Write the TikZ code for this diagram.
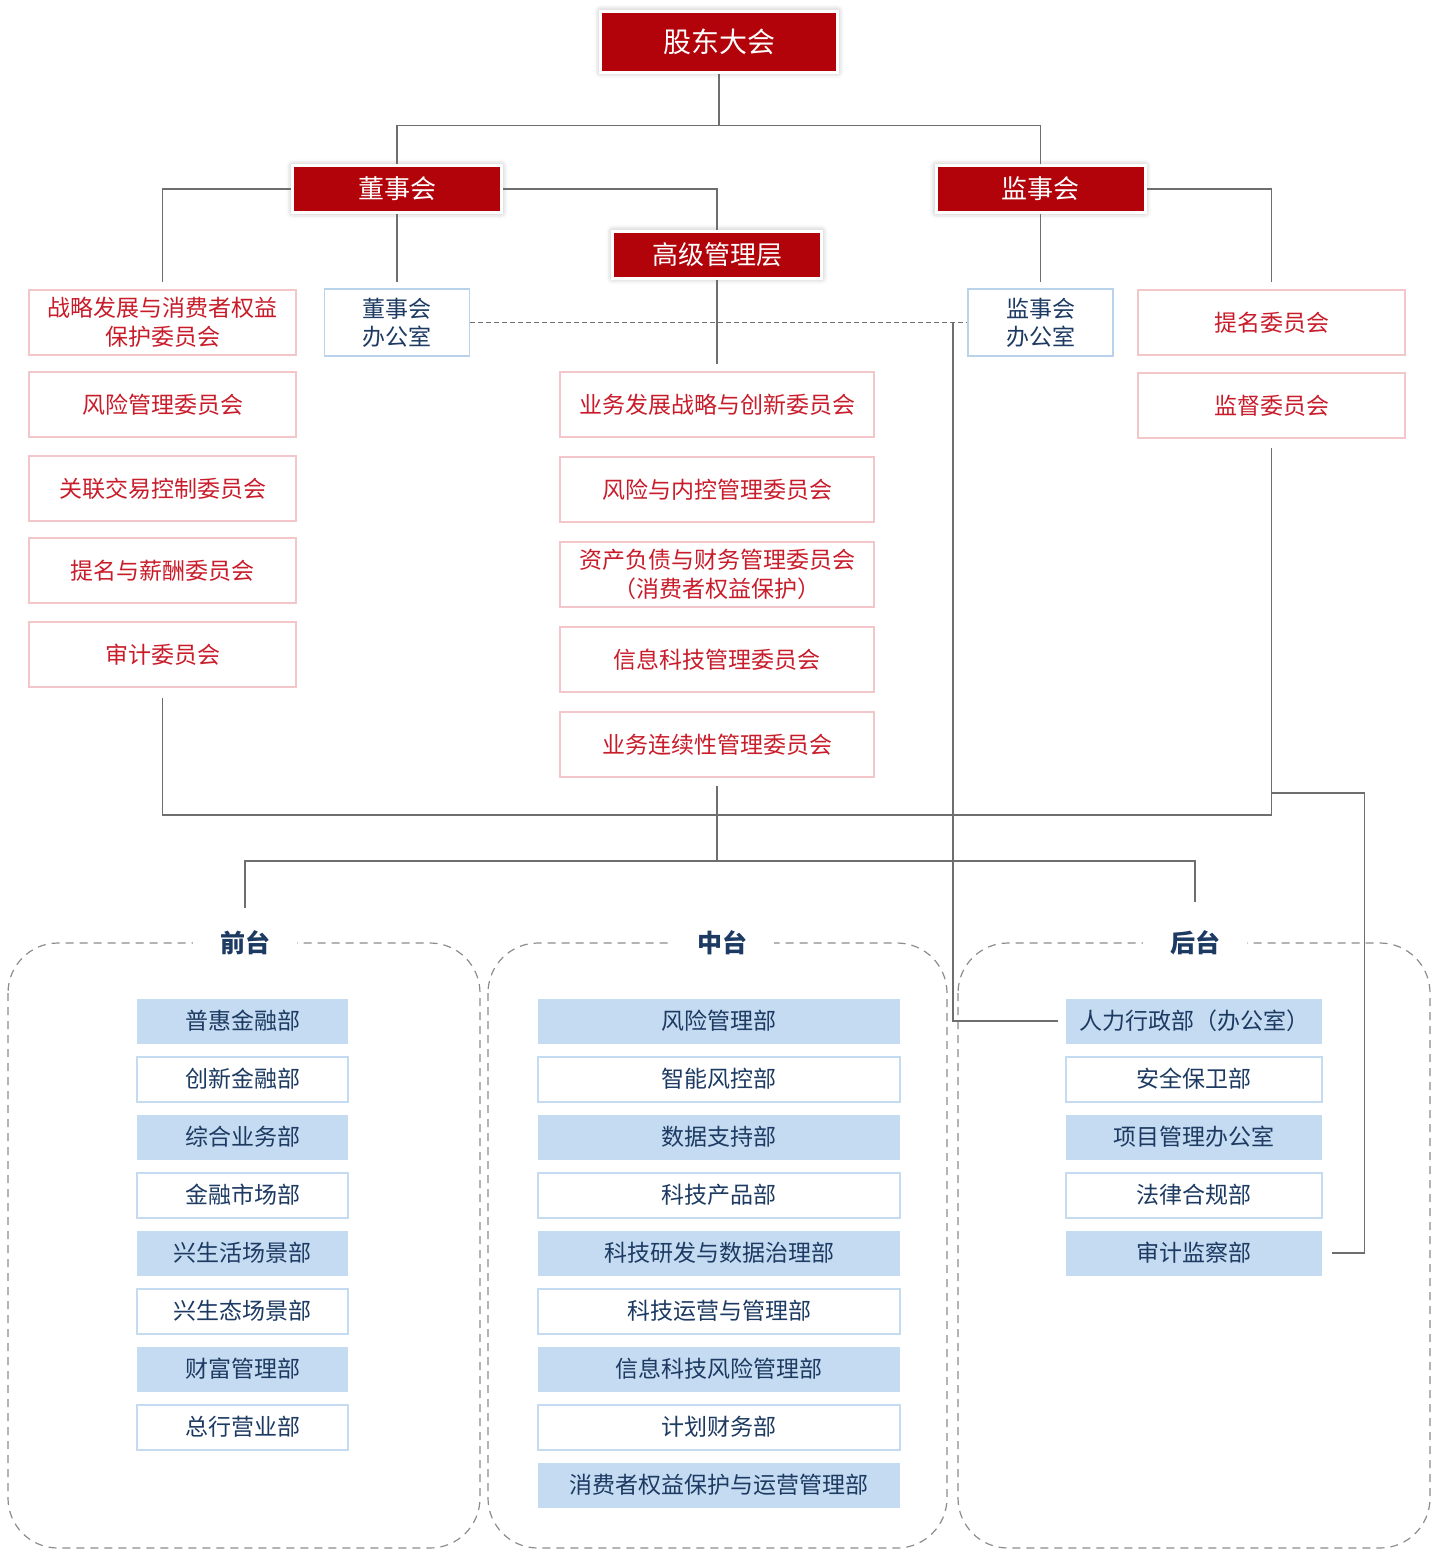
\documentclass[tikz,border=0pt]{standalone}
\usepackage{fontspec}
\setmainfont{Noto Sans CJK SC}
\usetikzlibrary{shadows.blur}
\definecolor{hdred}{RGB}{178,2,10}
\definecolor{cmtred}{RGB}{200,28,42}
\definecolor{cmtpink}{RGB}{243,198,202}
\definecolor{navy}{RGB}{28,58,98}
\definecolor{ofcblue}{RGB}{186,211,237}
\definecolor{dpblue}{RGB}{197,219,241}
\definecolor{lngray}{RGB}{110,110,110}
\definecolor{areagray}{RGB}{140,140,140}
\begin{document}
\begin{tikzpicture}[x=1pt, y=-1pt,
    hd/.style={fill=hdred, draw=white, line width=3pt, text=white, inner sep=0pt,
      minimum width=209pt, minimum height=47pt, font=\fontsize{26}{30}\selectfont,
      blur shadow={shadow xshift=0pt, shadow yshift=0pt, shadow blur radius=6pt, shadow opacity=35}},
    cmt/.style={draw=cmtpink, line width=1.5pt, text=cmtred, align=center, inner sep=0pt,
      minimum height=65pt, font=\fontsize{23}{29}\selectfont},
    ofc/.style={draw=ofcblue, line width=1.5pt, text=navy, align=center, inner sep=0pt,
      minimum width=145pt, minimum height=67pt, font=\fontsize{23}{28}\selectfont},
    dpf/.style={fill=dpblue, text=navy, inner sep=0pt, minimum height=45pt, font=\fontsize{23}{28}\selectfont},
    dpo/.style={dpf, fill=white, draw=dpblue, line width=2pt},
    ttl/.style={fill=white, text=navy, inner sep=0pt, minimum width=104pt, minimum height=30pt,
      font=\fontsize{25}{30}\selectfont\bfseries},
    area/.style={draw=areagray, line width=1.2pt, dash pattern=on 8pt off 6pt, rounded corners=50pt},
    ln/.style={draw=lngray, line width=1.3pt}]
  \useasboundingbox (0,0) rectangle (1445,1550);

  \draw[area] (8,943) rectangle (480,1548);
  \draw[area] (488,943) rectangle (947,1548);
  \draw[area] (958,943) rectangle (1430,1548);
  \node[ttl] (qt) at (245,943) {前台};
  \node[ttl] (zt) at (722,943) {中台};
  \node[ttl] (ht) at (1195,943) {后台};

  \node[hd, minimum width=237pt, minimum height=61pt, font=\fontsize{28}{32}\selectfont] (gd) at (719,41.5) {股东大会};
  \node[hd] (dsh) at (397,189) {董事会};
  \node[hd] (jsh) at (1040.5,189) {监事会};
  \node[hd] (gj) at (717,254.5) {高级管理层};

  \node[cmt, minimum width=267pt] (l1) at (162.5,322.5) {战略发展与消费者权益\\保护委员会};
  \node[cmt, minimum width=267pt] (l2) at (162.5,404.5) {风险管理委员会};
  \node[cmt, minimum width=267pt] (l3) at (162.5,488.5) {关联交易控制委员会};
  \node[cmt, minimum width=267pt] (l4) at (162.5,570.5) {提名与薪酬委员会};
  \node[cmt, minimum width=267pt] (l5) at (162.5,654.5) {审计委员会};

  \node[ofc] (dbg) at (397,322.5) {董事会\\办公室};
  \node[ofc] (jbg) at (1040.5,322.5) {监事会\\办公室};

  \node[cmt, minimum width=314pt] (m1) at (717,404.5) {业务发展战略与创新委员会};
  \node[cmt, minimum width=314pt] (m2) at (717,489.5) {风险与内控管理委员会};
  \node[cmt, minimum width=314pt] (m3) at (717,574.5) {资产负债与财务管理委员会\\（消费者权益保护）};
  \node[cmt, minimum width=314pt] (m4) at (717,659.5) {信息科技管理委员会};
  \node[cmt, minimum width=314pt] (m5) at (717,744.5) {业务连续性管理委员会};

  \node[cmt, minimum width=267pt] (r1) at (1271.5,322.5) {提名委员会};
  \node[cmt, minimum width=267pt] (r2) at (1271.5,405.5) {监督委员会};

  \node[dpf, minimum width=211pt] (q1) at (242.5,1021) {普惠金融部};
  \node[dpo, minimum width=211pt] (q2) at (242.5,1079) {创新金融部};
  \node[dpf, minimum width=211pt] (q3) at (242.5,1137) {综合业务部};
  \node[dpo, minimum width=211pt] (q4) at (242.5,1195) {金融市场部};
  \node[dpf, minimum width=211pt] (q5) at (242.5,1253) {兴生活场景部};
  \node[dpo, minimum width=211pt] (q6) at (242.5,1311) {兴生态场景部};
  \node[dpf, minimum width=211pt] (q7) at (242.5,1369) {财富管理部};
  \node[dpo, minimum width=211pt] (q8) at (242.5,1427) {总行营业部};

  \node[dpf, minimum width=362pt] (z1) at (719,1021) {风险管理部};
  \node[dpo, minimum width=362pt] (z2) at (719,1079) {智能风控部};
  \node[dpf, minimum width=362pt] (z3) at (719,1137) {数据支持部};
  \node[dpo, minimum width=362pt] (z4) at (719,1195) {科技产品部};
  \node[dpf, minimum width=362pt] (z5) at (719,1253) {科技研发与数据治理部};
  \node[dpo, minimum width=362pt] (z6) at (719,1311) {科技运营与管理部};
  \node[dpf, minimum width=362pt] (z7) at (719,1369) {信息科技风险管理部};
  \node[dpo, minimum width=362pt] (z8) at (719,1427) {计划财务部};
  \node[dpf, minimum width=362pt] (z9) at (719,1485) {消费者权益保护与运营管理部};

  \node[dpf, minimum width=256pt] (hr) at (1194,1021) {人力行政部（办公室）};
  \node[dpo, minimum width=256pt] (b2) at (1194,1079) {安全保卫部};
  \node[dpf, minimum width=256pt] (b3) at (1194,1137) {项目管理办公室};
  \node[dpo, minimum width=256pt] (b4) at (1194,1195) {法律合规部};
  \node[dpf, minimum width=256pt] (b5) at (1194,1253) {审计监察部};

  \coordinate (hub) at (953,323);
  \coordinate (bus) at (717,815);
  \coordinate (split) at (717,861);
  \coordinate (tap) at (1271.5,793);

  \draw[ln] (gd.south) -- ++(0,52) -| (dsh.north);
  \draw[ln] (gd.south) -- ++(0,52) -| (jsh.north);
  \draw[ln, shorten >=7pt] (dsh.west) -| (l1.north);
  \draw[ln] (dsh.east) -| (gj.north);
  \draw[ln, shorten >=6pt] (dsh.south) -- (dbg.north);
  \draw[ln, shorten >=6pt] (jsh.south) -- (jbg.north);
  \draw[ln, shorten >=7pt] (jsh.east) -| (r1.north);
  \draw[ln, shorten >=7pt] (gj.south) -- (m1.north);
  \draw[ln, dash pattern=on 5pt off 3pt] (dbg.east) -- (jbg.west);
  \draw[ln, shorten >=8pt] (hub) |- (hr.west);
  \draw[ln, shorten <=10pt, shorten >=9pt] (l5.south) |- (bus) -| (r2.south);
  \draw[ln, shorten <=8pt] (m5.south) -- (split);
  \draw[ln, shorten >=20pt] (split) -| (qt.north);
  \draw[ln, shorten >=26pt] (split) -| (ht.north);
  \draw[ln, shorten >=10pt] (tap) -- ++(93,0) |- (b5.east);
\end{tikzpicture}
\end{document}
